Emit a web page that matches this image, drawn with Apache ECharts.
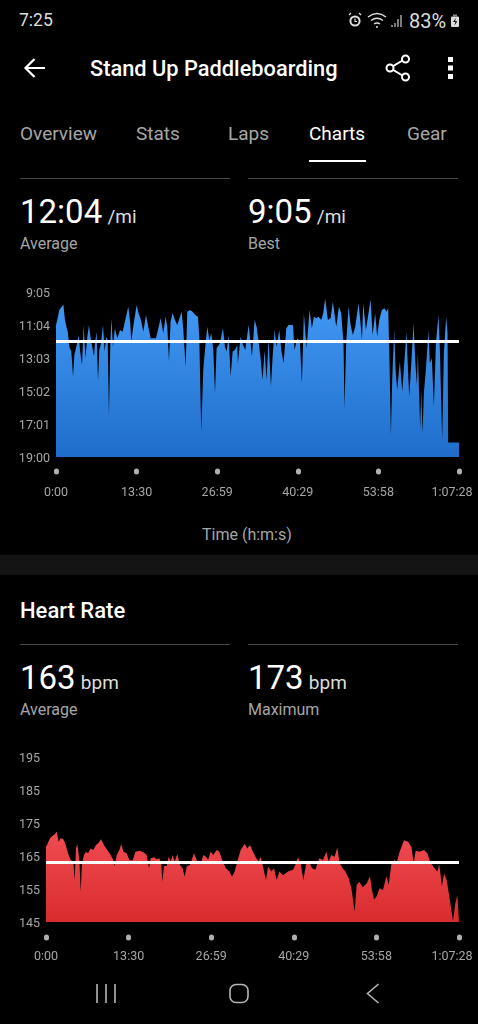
<!DOCTYPE html>
<html>
<head>
<meta charset="utf-8">
<title>Stand Up Paddleboarding</title>
<script src="https://cdn.jsdelivr.net/npm/echarts@6/dist/echarts.min.js"></script>
<style>
  html, body { margin: 0; background: #000; }
  #page { position: relative; width: 478px; height: 1024px; overflow: hidden; background: #000; font-family: Roboto, sans-serif; color: #fff; }
  .t { position: absolute; white-space: nowrap; line-height: 1; }
  .grey { color: #a6a6a6; }
  .unit { font-size: 19px; color: #ddd; margin-left: -3px; }
  .rule { position: absolute; height: 1px; width: 210px; background: #484848; }
  .chart { position: absolute; left: 0; width: 478px; }
  svg { position: absolute; overflow: visible; }
</style>
</head>
<body>
<div id="page">
  <div class="t" style="left:19px;top:12px;font-size:17.5px;color:#ddd">7:25</div>
  <div class="t" style="left:409px;top:11px;font-size:20px;color:#ddd">83%</div>
  <svg style="left:0;top:0" width="478" height="40" fill="none" stroke="#ddd">
    <circle cx="355" cy="21" r="4.6" stroke-width="2"/>
    <path d="M349 15l2-2M361 15l-2-2M355 18.5v3h2" stroke-width="1.2"/>
    <path d="M368 17q9-7 18 0M371 20.5q6-4.5 12 0M374 24q3-2 6 0" stroke-width="1.5"/>
    <circle cx="377" cy="27" r="1" fill="#ddd" stroke="none"/>
    <path d="M392 27v-2M395 27v-4M398 27v-8M401 27v-12" stroke-width="1.6" stroke="#999"/>
    <rect x="451" y="16.5" width="8" height="10.5" rx="1" fill="#ddd" stroke="none"/>
    <rect x="453" y="14.5" width="4" height="2" fill="#888" stroke="none"/>
    <path d="M456 18l-3 4h2.4l-1 3.5 3-4.2h-2.4z" fill="#000" stroke="none"/>
  </svg>

  <svg style="left:0;top:0" width="478" height="100" fill="none" stroke="#fff">
    <path d="M26 68h19M34.5 59l-9 9 9 9" stroke-width="2.2"/>
    <path d="M405 59l-15 9 15 9" stroke-width="2"/>
    <circle cx="405.5" cy="59" r="3.5" fill="#000" stroke-width="2"/>
    <circle cx="390" cy="68" r="3.5" fill="#000" stroke-width="2"/>
    <circle cx="405.5" cy="77" r="3.5" fill="#000" stroke-width="2"/>
    <rect x="448" y="57" width="5" height="5" fill="#fff" stroke="none"/>
    <rect x="448" y="65.5" width="5" height="5" fill="#fff" stroke="none"/>
    <rect x="448" y="74" width="5" height="5" fill="#fff" stroke="none"/>
  </svg>
  <div class="t" style="left:90px;top:58px;font-size:21.8px;font-weight:500">Stand Up Paddleboarding</div>

  <div class="t grey" style="left:20px;top:124px;font-size:19px">Overview</div>
  <div class="t grey" style="left:136px;top:124px;font-size:19px">Stats</div>
  <div class="t grey" style="left:228px;top:124px;font-size:19px">Laps</div>
  <div class="t" style="left:309px;top:124px;font-size:19px">Charts</div>
  <div class="t grey" style="left:407px;top:124px;font-size:19px">Gear</div>
  <div style="position:absolute;left:309px;top:160px;width:57px;height:2px;background:#fff"></div>

  <div class="rule" style="left:20px;top:178px"></div>
  <div class="rule" style="left:248px;top:178px"></div>
  <div class="t" style="left:20px;top:195px;font-size:33px">12:04 <span class="unit">/mi</span></div>
  <div class="t" style="left:248px;top:195px;font-size:33px">9:05 <span class="unit">/mi</span></div>
  <div class="t grey" style="left:20px;top:236px;font-size:16px">Average</div>
  <div class="t grey" style="left:248px;top:236px;font-size:16px">Best</div>

  <div id="paceChart" class="chart" style="top:270px;height:240px"></div>
  <div class="t grey" style="left:202px;top:527px;font-size:16px">Time (h:m:s)</div>

  <div style="position:absolute;left:0;top:555px;width:478px;height:20px;background:#141414"></div>

  <div class="t" style="left:20px;top:600px;font-size:22px;font-weight:500">Heart Rate</div>
  <div class="rule" style="left:20px;top:644px"></div>
  <div class="rule" style="left:248px;top:644px"></div>
  <div class="t" style="left:20px;top:661px;font-size:33px">163 <span class="unit">bpm</span></div>
  <div class="t" style="left:248px;top:661px;font-size:33px">173 <span class="unit">bpm</span></div>
  <div class="t grey" style="left:20px;top:702px;font-size:16px">Average</div>
  <div class="t grey" style="left:248px;top:702px;font-size:16px">Maximum</div>

  <div id="hrChart" class="chart" style="top:740px;height:230px"></div>

  <svg style="left:0;top:970px" width="478" height="54" fill="none" stroke="#b5b5b5" stroke-width="1.6">
    <path d="M97 14v19M106 14v19M115 14v19"/>
    <rect x="230" y="14.5" width="18" height="18" rx="6"/>
    <path d="M378.5 14l-11 9.5 11 9.5"/>
  </svg>
</div>

<script>
// x axis, seconds from the start
const timeTickValues = [0, 810, 1619, 2429, 3238, 4048]
const timeTickLabels = ['0:00', '13:30', '26:59', '40:29', '53:58', '1:07:28']

// pace, seconds per mile
const paceTickValues = [545, 664, 783, 902, 1021, 1140]
const paceTickLabels = ['9:05', '11:04', '13:03', '15:02', '17:01', '19:00']
const paceAverage = 724
const paceTimes = [
  0, 13, 33, 47, 74, 90, 107, 120, 134, 154, 171, 184, 208, 228, 241, 261, 278, 295, 315, 331,
  348, 365, 382, 392, 408, 422, 435, 452, 472, 489, 505, 519, 532, 546, 556, 572, 592, 616, 643, 669,
  696, 726, 746, 756, 776, 810, 830, 853, 877, 904, 927, 951, 977, 1004, 1024, 1051, 1078, 1101, 1118, 1135,
  1151, 1171, 1195, 1218, 1238, 1262, 1279, 1302, 1319, 1345, 1372, 1399, 1426, 1439, 1459, 1479, 1499, 1520, 1540, 1560,
  1580, 1597, 1613, 1647, 1677, 1697, 1714, 1734, 1754, 1774, 1797, 1821, 1827, 1854, 1878, 1901, 1935, 1955, 1968, 1995,
  2015, 2035, 2055, 2075, 2095, 2115, 2135, 2159, 2176, 2196, 2216, 2243, 2263, 2286, 2313, 2336, 2356, 2380, 2396, 2423,
  2450, 2470, 2490, 2517, 2547, 2570, 2591, 2614, 2637, 2664, 2684, 2704, 2731, 2758, 2781, 2815, 2842, 2865, 2888, 2898,
  2915, 2939, 2959, 2982, 3006, 3039, 3059, 3073, 3086, 3113, 3133, 3160, 3180, 3206, 3226, 3247, 3273, 3300, 3320, 3337,
  3350, 3364, 3377, 3397, 3411, 3427, 3454, 3478, 3498, 3521, 3534, 3548, 3571, 3591, 3611, 3625, 3635, 3658, 3668, 3682,
  3695, 3715, 3742, 3755, 3775, 3796, 3816, 3842, 3856, 3879, 3896, 3919, 3933, 3939, 4048
]
const paceValues = [
  664, 646, 610, 616, 590, 646, 648, 694, 742, 760, 850, 772, 736, 700, 754, 808, 664, 784, 706, 664,
  712, 712, 778, 730, 688, 868, 754, 730, 664, 760, 706, 718, 989, 730, 640, 742, 676, 712, 682, 688,
  646, 598, 658, 724, 670, 592, 622, 646, 688, 628, 670, 712, 712, 712, 682, 640, 694, 634, 670, 796,
  652, 622, 646, 664, 670, 616, 682, 814, 616, 610, 616, 628, 634, 706, 1049, 826, 742, 670, 718, 694,
  754, 910, 748, 730, 676, 742, 760, 700, 850, 760, 754, 736, 802, 706, 736, 754, 664, 730, 778, 646,
  670, 724, 784, 862, 754, 862, 712, 886, 778, 682, 742, 682, 754, 802, 676, 664, 658, 664, 754, 712,
  724, 874, 622, 748, 610, 676, 634, 640, 634, 646, 622, 568, 646, 640, 580, 670, 598, 622, 730, 965,
  724, 598, 664, 700, 670, 586, 658, 718, 586, 682, 676, 572, 700, 622, 706, 646, 610, 604, 616, 604,
  802, 1061, 862, 682, 826, 898, 796, 904, 802, 688, 814, 922, 790, 658, 808, 880, 766, 1037, 898, 1055,
  910, 826, 682, 802, 784, 959, 730, 628, 754, 1079, 766, 634, 694, 1088, 1088
]

// heart rate, bpm
const hrTickValues = [145, 155, 165, 175, 185, 195]
const hrAverage = 163
const hrTimes = [
  0, 16, 39, 65, 88, 105, 124, 144, 170, 189, 216, 242, 268, 281, 294, 307, 327, 340, 353, 372,
  392, 412, 438, 464, 490, 516, 539, 568, 601, 634, 660, 673, 693, 719, 738, 758, 791, 817, 849, 876,
  921, 961, 987, 1010, 1026, 1059, 1085, 1111, 1130, 1140, 1157, 1183, 1202, 1222, 1241, 1261, 1287, 1313, 1339, 1359,
  1379, 1411, 1451, 1483, 1519, 1542, 1568, 1588, 1614, 1640, 1673, 1699, 1732, 1764, 1797, 1823, 1849, 1875, 1908, 1947,
  1973, 1999, 2029, 2061, 2084, 2104, 2127, 2156, 2176, 2209, 2235, 2261, 2287, 2323, 2372, 2421, 2444, 2470, 2496, 2522,
  2548, 2574, 2607, 2640, 2679, 2715, 2748, 2770, 2797, 2829, 2855, 2878, 2908, 2934, 2966, 2993, 3025, 3045, 3071, 3104,
  3143, 3175, 3195, 3215, 3241, 3270, 3303, 3336, 3359, 3385, 3417, 3437, 3466, 3509, 3548, 3581, 3604, 3623, 3662, 3705,
  3737, 3770, 3809, 3835, 3855, 3881, 3901, 3927, 3953, 3989, 4012, 4032, 4048
]
const hrValues = [
  167.8, 168.8, 170.4, 171.1, 171.6, 172.4, 169.3, 170.4, 170.1, 168.8, 165.8, 163.8, 163.3, 157.7, 167.3, 168.6, 163.8, 154.2, 162.8, 165.3,
  166.3, 165.8, 167.3, 166.8, 168.3, 169, 170.1, 168.3, 166.8, 165.3, 163.8, 162, 165.3, 166.8, 168.6, 166.3, 165.8, 163.8, 163.6, 166.3,
  166.6, 166, 165.3, 161.3, 164.3, 164.6, 164, 164.3, 162.8, 157.2, 162, 162, 164.8, 163.3, 165.3, 163.3, 165.6, 162.3, 161.3, 158.7,
  161.8, 162.3, 165.8, 163.3, 162.8, 165.3, 164.8, 163.8, 166.3, 165.3, 166.8, 166.3, 163.3, 161.3, 160.3, 158.7, 160.3, 163.3, 166.8, 168.6,
  167.3, 168.3, 166.3, 164.3, 163.3, 164.8, 161.8, 157.7, 161.8, 160.3, 161.3, 157.7, 160.3, 159.2, 160.3, 160.8, 162.3, 164.6, 162.8, 157.7,
  162.3, 163.7, 161.3, 160.8, 164.3, 163.8, 166.3, 163.3, 165.3, 164.8, 167.6, 162.8, 161.3, 160.3, 158.3, 155.3, 148.1, 156.2, 157.2, 155.5,
  156.7, 158.9, 154.7, 151.8, 152.8, 155.2, 154.7, 158.9, 156.3, 162.4, 163.9, 162.9, 166.3, 169.8, 169.3, 167.8, 162.9, 166.6, 166.3, 166.8,
  165.8, 162.9, 161.3, 160.3, 162.4, 155.8, 159.7, 157.7, 152.8, 145.4, 150.7, 153.2, 153.2
]

function pairs(xs, ys) {
  return xs.map((x, i) => [x, ys[i]])
}

function verticalFill(top, bottom) {
  return { type: 'linear', x: 0, y: 0, x2: 0, y2: 1, colorStops: [{ offset: 0, color: top }, { offset: 1, color: bottom }] }
}

function chartOption(o) {
  return {
    animation: false,
    backgroundColor: 'transparent',
    grid: { left: o.left, right: 19, top: o.top, height: 165 },
    xAxis: {
      type: 'value',
      min: 0,
      max: 4048,
      offset: o.dotOffset,
      splitLine: { show: false },
      axisLine: { show: false },
      axisTick: { show: true, customValues: timeTickValues, length: 1, lineStyle: { color: '#b0b0b0', width: 5, cap: 'round' } },
      axisLabel: {
        customValues: timeTickValues,
        margin: o.labelMargin,
        fontFamily: 'Roboto',
        fontSize: 12.5,
        color: '#a6a6a6',
        formatter: v => {
          const label = timeTickLabels[timeTickValues.indexOf(v)]
          return v === 4048 ? '{last|' + label + '}' : label
        },
        rich: { last: { fontFamily: 'Roboto', fontSize: 12.5, color: '#a6a6a6', padding: [0, 14, 0, 0] } }
      }
    },
    yAxis: {
      type: 'value',
      min: o.yMin,
      max: o.yMax,
      inverse: o.inverse,
      splitLine: { show: false },
      axisLine: { show: false },
      axisTick: { show: false },
      axisLabel: {
        customValues: o.yTicks,
        margin: 6,
        formatter: v => '{tick|' + o.yFormat(v) + '}',
        rich: { tick: { fontFamily: 'Roboto', fontSize: 12.5, color: '#a6a6a6', padding: [4, 0, 0, 0] } }
      }
    },
    series: [{
      type: 'line',
      data: o.data,
      showSymbol: false,
      silent: true,
      lineStyle: { width: 0 },
      areaStyle: { origin: o.base, color: verticalFill(o.fillTop, o.fillBottom), opacity: 1 },
      markLine: {
        silent: true,
        symbol: 'none',
        label: { show: false },
        lineStyle: { color: '#fff', type: 'solid', width: 3 },
        data: [{ yAxis: o.average }]
      }
    }]
  }
}

echarts.init(document.getElementById('paceChart')).setOption(chartOption({
  left: 56,
  top: 22,
  dotOffset: 14,
  labelMargin: 15,
  yMin: 545,
  yMax: 1140,
  inverse: true,
  yTicks: paceTickValues,
  yFormat: v => paceTickLabels[paceTickValues.indexOf(v)],
  data: pairs(paceTimes, paceValues),
  base: 1140,
  average: paceAverage,
  fillTop: '#429af5',
  fillBottom: '#1f6dcb'
}))

echarts.init(document.getElementById('hrChart')).setOption(chartOption({
  left: 46,
  top: 17,
  dotOffset: 15,
  labelMargin: 13,
  yMin: 145,
  yMax: 195,
  inverse: false,
  yTicks: hrTickValues,
  yFormat: v => String(v),
  data: pairs(hrTimes, hrValues),
  base: 145,
  average: hrAverage,
  fillTop: '#f04c52',
  fillBottom: '#d92b2e'
}))
</script>
</body>
</html>
